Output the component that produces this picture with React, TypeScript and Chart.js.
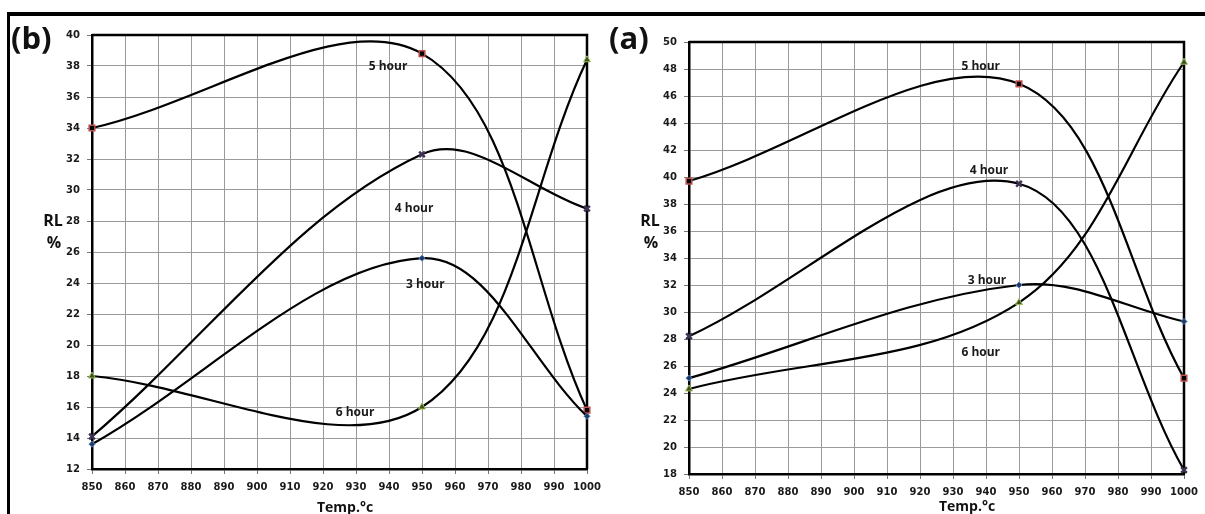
import React, { useEffect, useRef } from 'react';
import { Chart, registerables } from 'chart.js';
Chart.register(...registerables);

// ---- data ----
const temps = [850, 950, 1000];
const hourNames = ['3 hour', '4 hour', '5 hour', '6 hour'];

const panelB_3h = [13.6, 25.6, 15.4];
const panelB_4h = [14.1, 32.3, 28.8];
const panelB_5h = [34.0, 38.8, 15.8];
const panelB_6h = [18.0, 16.0, 38.4];

const panelA_3h = [25.1, 32.0, 29.3];
const panelA_4h = [28.2, 39.5, 18.3];
const panelA_5h = [39.7, 46.9, 25.1];
const panelA_6h = [24.3, 30.7, 48.5];

const xMin = 850;
const xMax = 1000;
const xStep = 10;
const yRangeB = [12, 40];
const yRangeA = [18, 50];
const yStep = 2;

// label anchors (data coordinates) for the in-plot hour annotations
const annotB = [[951, 23.9], [947.6, 28.8], [939.7, 37.95], [929.7, 15.66]];
const annotA = [[940.3, 32.3], [940.9, 40.44], [938.4, 48.15], [938.4, 26.96]];

const markerStyles = [
  { pointStyle: 'rectRot', radius: 3, bg: '#1f3864', border: '#4f81bd', bw: 1 },
  { pointStyle: 'crossRot', radius: 4, bg: '#3f3151', border: '#3f3151', bw: 2.5 },
  { pointStyle: 'rect', radius: 4, bg: '#000000', border: '#c0504d', bw: 1.5 },
  { pointStyle: 'triangle', radius: 4, bg: '#3d4f1c', border: '#9bbb59', bw: 1 },
];

const TICK_FONT = { family: '"DejaVu Sans", Verdana, sans-serif', size: 10, weight: 'bold' as const };
const TEXT_FAMILY = '"Open Sans", "Noto Sans", sans-serif';

type PanelCfg = {
  series: number[][];
  yRange: number[];
  annots: number[][];
  letter: string;
  letterX: number;
  letterY: number;
  rlX: number;
  rlY: number;
  pctX: number;
  pctY: number;
  titleX: number;
  titleY: number;
  area: { left: number; top: number; right: number; bottom: number };
  width: number;
  height: number;
};

function makeChart(canvas: HTMLCanvasElement, cfg: PanelCfg) {
  const datasets = cfg.series.map((vals, i) => {
    const m = markerStyles[i];
    return {
      label: hourNames[i],
      data: temps.map((t, j) => ({ x: t, y: vals[j] })),
      borderColor: '#000',
      borderWidth: 2.2,
      tension: 0.35,
      capBezierPoints: false,
      fill: false,
      pointStyle: m.pointStyle as any,
      pointRadius: m.radius,
      pointBackgroundColor: m.bg,
      pointBorderColor: m.border,
      pointBorderWidth: m.bw,
      clip: 6,
    };
  });

  const decor = {
    id: 'decor',
    beforeDatasetsDraw(chart: any) {
      const { ctx, chartArea: a } = chart;
      ctx.save();
      ctx.strokeStyle = '#000';
      ctx.lineWidth = 2.5;
      ctx.beginPath();
      ctx.moveTo(a.left, a.top);
      ctx.lineTo(a.right, a.top);
      ctx.lineTo(a.right, a.bottom);
      ctx.stroke();
      ctx.restore();
    },
    afterDraw(chart: any) {
      const { ctx } = chart;
      const xs = chart.scales.x;
      const ys = chart.scales.y;
      ctx.save();
      ctx.textAlign = 'center';
      ctx.textBaseline = 'middle';
      ctx.fillStyle = '#1a1a1a';
      ctx.font = `bold 12px ${TEXT_FAMILY}`;
      cfg.annots.forEach((p, i) => {
        ctx.fillText(hourNames[i], xs.getPixelForValue(p[0]), ys.getPixelForValue(p[1]));
      });
      ctx.fillStyle = '#111';
      ctx.font = `bold 16px ${TEXT_FAMILY}`;
      ctx.fillText('RL', cfg.rlX, cfg.rlY);
      ctx.fillText('%', cfg.pctX, cfg.pctY);
      ctx.font = `bold 14px ${TEXT_FAMILY}`;
      ctx.fillText('Temp.°c', cfg.titleX, cfg.titleY);
      ctx.textAlign = 'left';
      ctx.font = `bold 31px ${TEXT_FAMILY}`;
      ctx.fillText(cfg.letter, cfg.letterX, cfg.letterY);
      ctx.restore();
    },
  };

  const a = cfg.area;
  return new Chart(canvas, {
    type: 'line',
    data: { datasets },
    plugins: [decor],
    options: {
      animation: false,
      responsive: false,
      maintainAspectRatio: false,
      layout: { padding: { top: a.top, right: cfg.width - a.right, bottom: 0, left: 0 } },
      plugins: { legend: { display: false }, tooltip: { enabled: false }, title: { display: false } },
      scales: {
        x: {
          type: 'linear',
          min: xMin,
          max: xMax,
          afterFit: (s: any) => { s.height = cfg.height - a.bottom; },
          ticks: {
            stepSize: xStep,
            autoSkip: false,
            maxRotation: 0,
            font: TICK_FONT,
            color: '#1a1a1a',
            padding: 7,
            callback: (v: any) => String(v),
          },
          grid: { color: '#9a9a9a', lineWidth: 1, tickLength: 5, tickColor: '#777' },
          border: { display: true, color: '#000', width: 2.5 },
        },
        y: {
          type: 'linear',
          min: cfg.yRange[0],
          max: cfg.yRange[1],
          afterFit: (s: any) => { s.width = a.left; },
          ticks: { stepSize: yStep, font: TICK_FONT, color: '#1a1a1a', padding: 7, callback: (v: any) => String(v) },
          grid: { color: '#9a9a9a', lineWidth: 1, tickLength: 5, tickColor: '#777' },
          border: { display: true, color: '#000', width: 2.5 },
        },
      },
    },
  });
}

export default function App() {
  const leftRef = useRef<HTMLCanvasElement>(null);
  const rightRef = useRef<HTMLCanvasElement>(null);

  useEffect(() => {
    const left = makeChart(leftRef.current!, {
      series: [panelB_3h, panelB_4h, panelB_5h, panelB_6h],
      yRange: yRangeB,
      annots: annotB,
      letter: '(b)',
      letterX: 11,
      letterY: 40,
      rlX: 53,
      rlY: 221,
      pctX: 54,
      pctY: 243,
      titleX: 345,
      titleY: 508,
      area: { left: 92, top: 35, right: 587, bottom: 469 },
      width: 612,
      height: 514,
    });
    const right = makeChart(rightRef.current!, {
      series: [panelA_3h, panelA_4h, panelA_5h, panelA_6h],
      yRange: yRangeA,
      annots: annotA,
      letter: '(a)',
      letterX: 9,
      letterY: 40,
      rlX: 50,
      rlY: 221,
      pctX: 51,
      pctY: 243,
      titleX: 367,
      titleY: 507,
      area: { left: 89, top: 42, right: 584, bottom: 474 },
      width: 612,
      height: 514,
    });
    return () => {
      left.destroy();
      right.destroy();
    };
  }, []);

  return (
    <div style={{ position: 'fixed', left: 0, top: 0, width: 1205, height: 514, background: '#fff', overflow: 'hidden' }}>
      <div style={{ position: 'absolute', left: 7, top: 12, width: 1198, height: 4, background: '#000' }} />
      <div style={{ position: 'absolute', left: 7, top: 12, width: 3, height: 502, background: '#000' }} />
      <canvas ref={leftRef} width={612} height={514} style={{ position: 'absolute', left: 0, top: 0, width: 612, height: 514 }} />
      <canvas ref={rightRef} width={612} height={514} style={{ position: 'absolute', left: 600, top: 0, width: 612, height: 514 }} />
    </div>
  );
}
